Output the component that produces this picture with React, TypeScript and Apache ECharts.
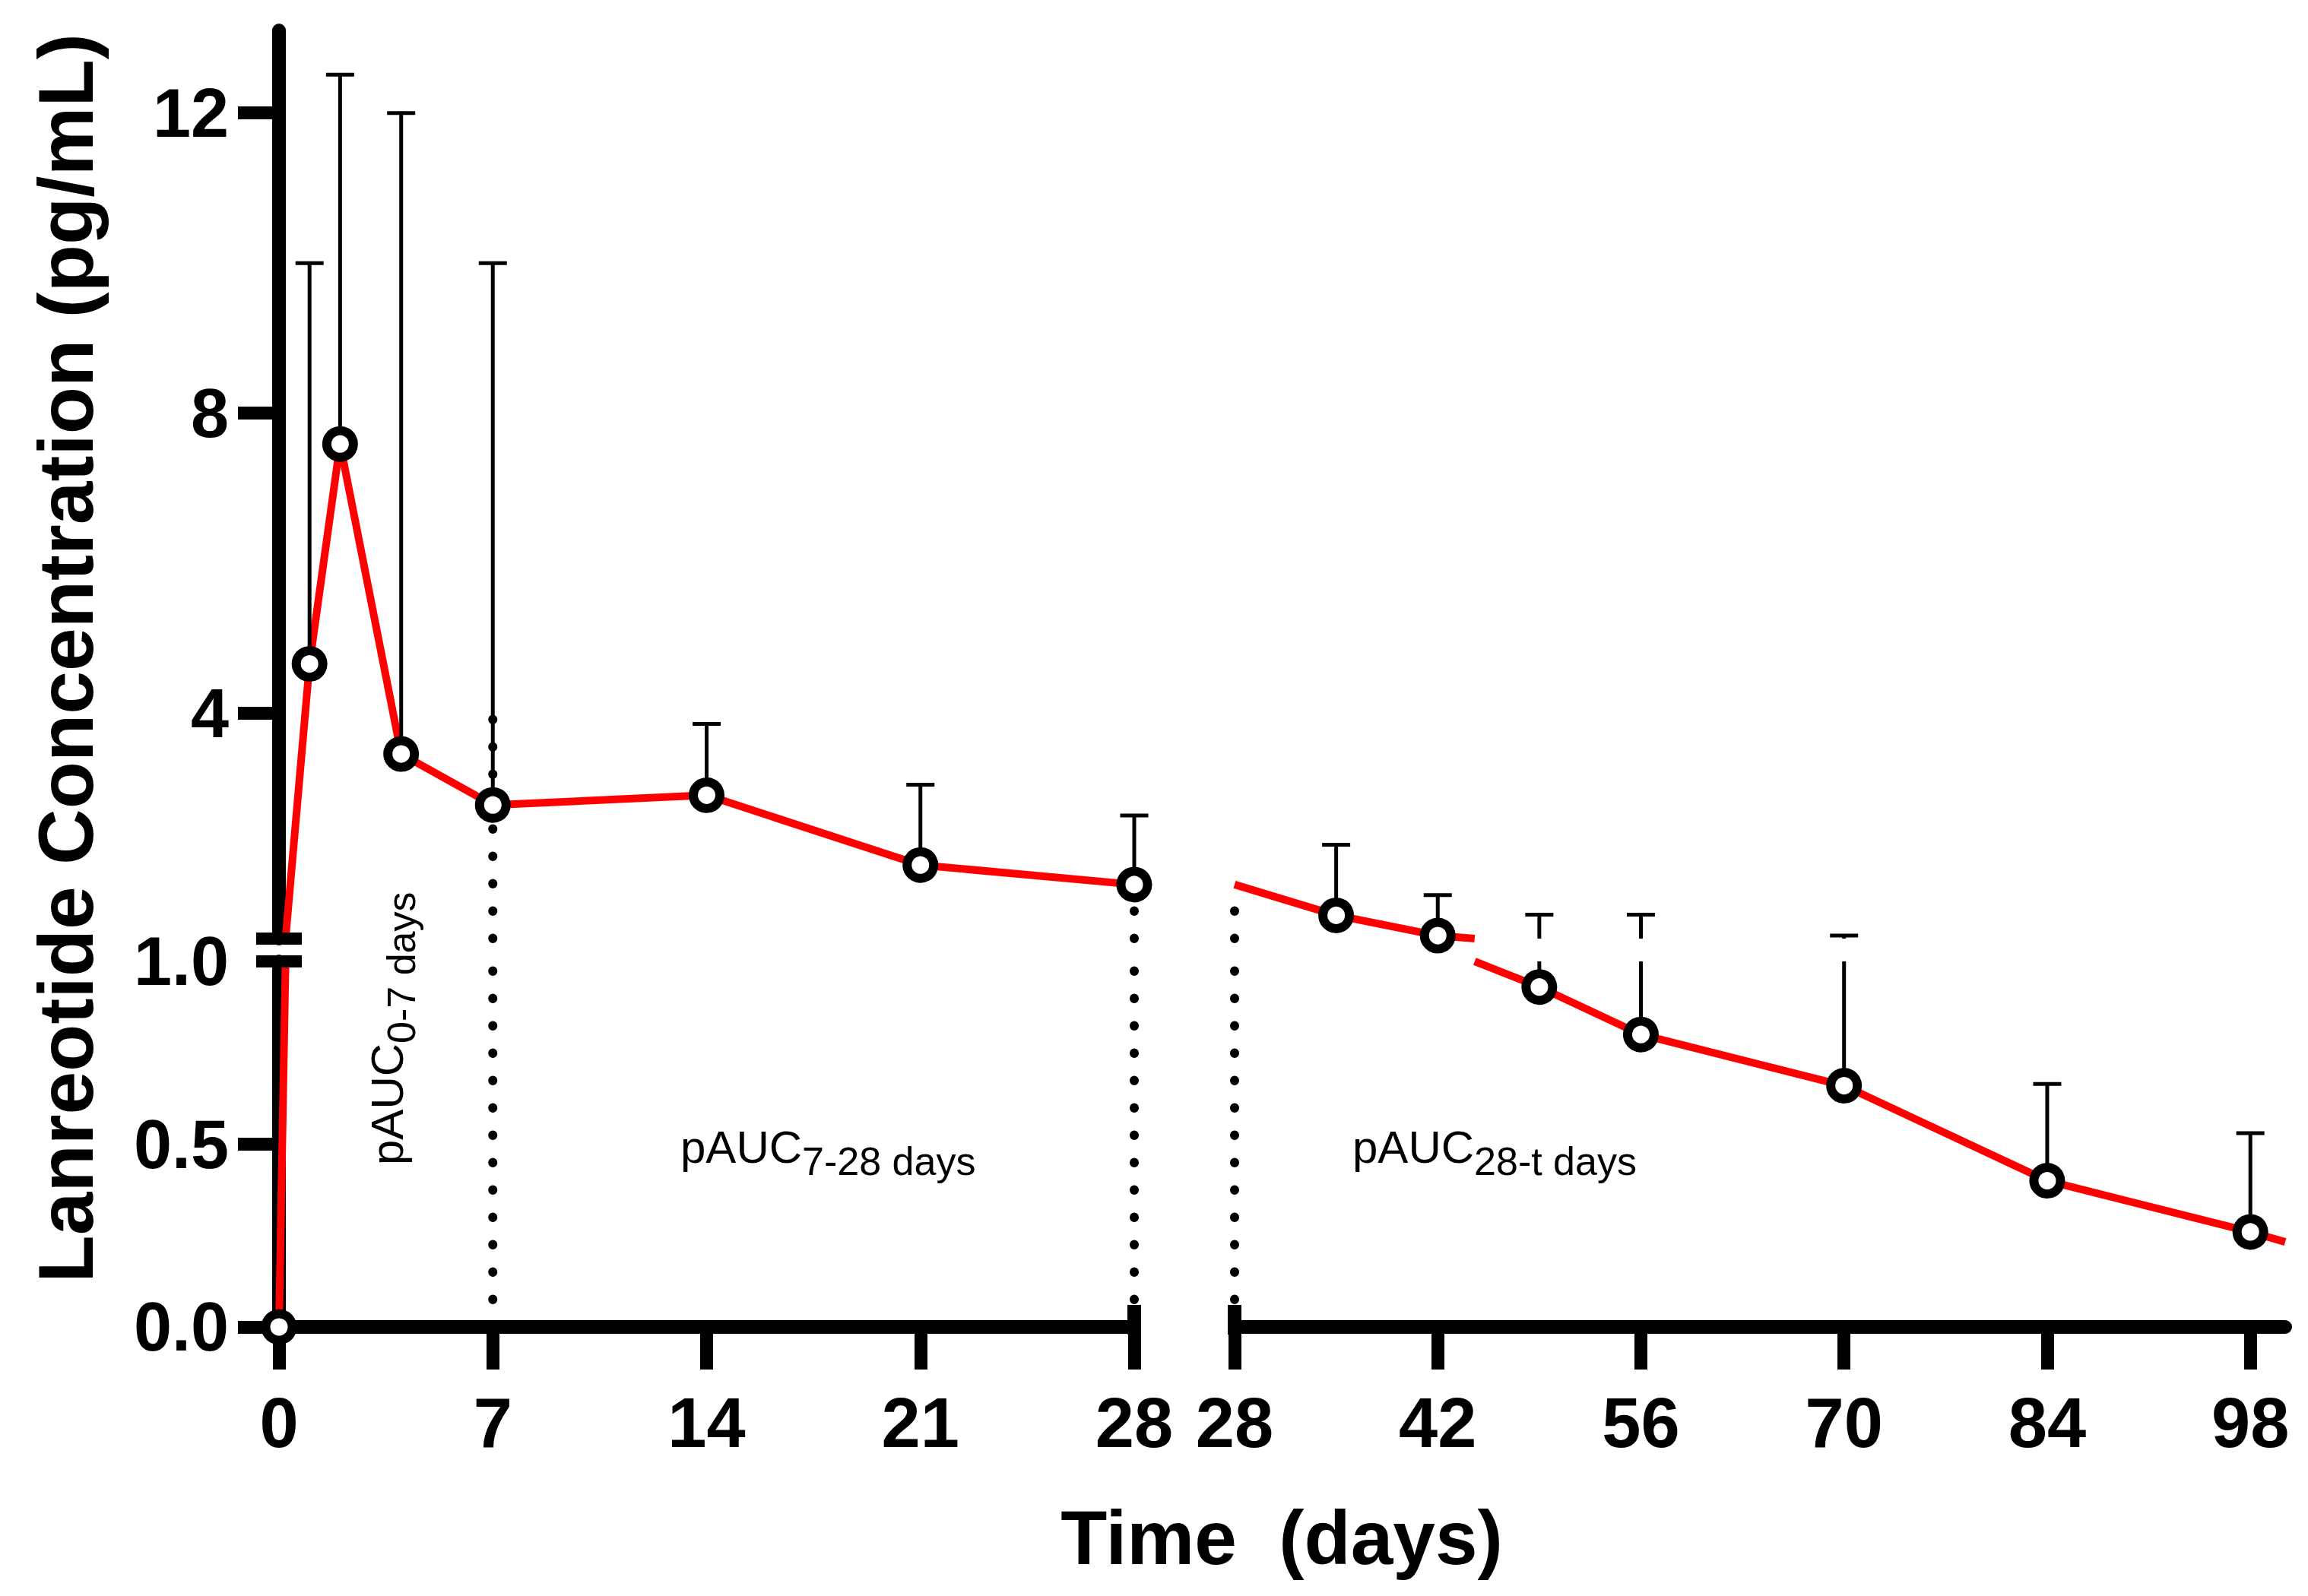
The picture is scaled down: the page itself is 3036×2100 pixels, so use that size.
import React, { useEffect, useRef } from "react";
import * as echarts from "echarts";

// ---------- data ----------
const days = [0, 1, 2, 4, 7, 14, 21, 28, 35, 42, 49, 56, 70, 84, 98, 112];
const meanConc = [0, 4.66, 7.59, 3.46, 2.78, 2.91, 1.98, 1.72, 1.31, 1.04, 0.93, 0.8, 0.66, 0.4, 0.26, 0.1];
const sdConc = [0, 5.34, 4.92, 8.54, 7.22, 0.95, 1.07, 0.92, 0.94, 0.54, 0.39, 0.52, 0.38, 0.265, 0.27, 0];

const xTicksLeft = [0, 7, 14, 21, 28];
const xTicksRight = [28, 42, 56, 70, 84, 98];
const yTicksLow = [0, 0.5];
const yLabelsLow = [0, 0.5, 1.0];
const yTicksHigh = [4, 8, 12];

const boundaryDays = [7, 28];
const boundaryTop = [4.0, 1.72];

const pAucMain = ["pAUC", "pAUC", "pAUC"];
const pAucSub = ["0-7 days", "7-28 days", "28-t days"];

const xRangeLeft = [0, 28];
const xRangeRight = [28, 100.4];
const yRangeLow = [0, 1];
const yRangeHigh = [1, 13.1];

// ---------- layout ----------
const FONT = "'Liberation Sans', Arial, Helvetica, sans-serif";
const LEFT_X = 367;
const LEFT_W = 1125;
const RIGHT_X = 1624;
const RIGHT_W = 1382;
const UP_TOP = 40;
const UP_H = 1195;
const LOW_TOP = 1265;
const LOW_H = 481;
const AXIS_W = 18;

function emptyGroup() {
  return { type: "group", children: [] };
}

// Liang–Barsky clipping of a segment to a data-space rectangle
function clipSeg(x0: number, y0: number, x1: number, y1: number, xr: number[], yr: number[]) {
  let t0 = 0;
  let t1 = 1;
  const dx = x1 - x0;
  const dy = y1 - y0;
  const p = [-dx, dx, -dy, dy];
  const q = [x0 - xr[0], xr[1] - x0, y0 - yr[0], yr[1] - y0];
  for (let i = 0; i < 4; i++) {
    if (p[i] === 0) {
      if (q[i] < 0) return null;
    } else {
      const r = q[i] / p[i];
      if (p[i] < 0) {
        if (r > t1) return null;
        if (r > t0) t0 = r;
      } else {
        if (r < t0) return null;
        if (r < t1) t1 = r;
      }
    }
  }
  if (t1 - t0 <= 1e-9) return null;
  return [x0 + t0 * dx, y0 + t0 * dy, x0 + t1 * dx, y0 + t1 * dy];
}

function makeSeg(xr: number[], yr: number[]) {
  return (params: any, api: any) => {
    const c = clipSeg(api.value(0), api.value(1), api.value(2), api.value(3), xr, yr);
    if (!c) return emptyGroup();
    const a = api.coord([c[0], c[1]]);
    const b = api.coord([c[2], c[3]]);
    return {
      type: "line",
      shape: { x1: a[0], y1: a[1], x2: b[0], y2: b[1] },
      style: { stroke: "#ff0000", lineWidth: 10, lineCap: "butt" },
    };
  };
}

function makeErr(xr: number[], yr: number[], includeMin: boolean) {
  return (params: any, api: any) => {
    const x = api.value(0);
    const lo = api.value(1);
    const hi = api.value(2);
    if (x > xr[1] || x < xr[0] || (!includeMin && x === xr[0])) return emptyGroup();
    const children: any[] = [];
    const a = Math.max(lo, yr[0]);
    const b = Math.min(hi, yr[1]);
    if (b > a) {
      const p0 = api.coord([x, a]);
      const p1 = api.coord([x, b]);
      children.push({
        type: "line",
        shape: { x1: p0[0], y1: p0[1], x2: p1[0], y2: p1[1] },
        style: { stroke: "#000", lineWidth: 5 },
      });
    }
    if (hi >= yr[0] && hi <= yr[1]) {
      const pc = api.coord([x, hi]);
      children.push({
        type: "line",
        shape: { x1: pc[0] - 18.5, y1: pc[1], x2: pc[0] + 18.5, y2: pc[1] },
        style: { stroke: "#000", lineWidth: 5 },
      });
    }
    return { type: "group", children };
  };
}

function makeDot(xr: number[], yr: number[]) {
  return (params: any, api: any) => {
    const x = api.value(0);
    const lo = api.value(1);
    const hi = api.value(2);
    if (x < xr[0] || x > xr[1]) return emptyGroup();
    const a = Math.max(lo, yr[0]);
    const b = Math.min(hi, yr[1]);
    if (b <= a) return emptyGroup();
    const p0 = api.coord([x, a]);
    const p1 = api.coord([x, b]);
    return {
      type: "line",
      shape: { x1: p0[0], y1: p0[1], x2: p1[0], y2: p1[1] },
      style: { stroke: "#000", lineWidth: 12, lineDash: [0.5, 35.5], lineCap: "round" },
    };
  };
}

function buildOption() {
  const points = days.map((d, i) => [d, meanConc[i]]);
  const segData = days.slice(1).map((d, i) => [days[i], meanConc[i], d, meanConc[i + 1]]);
  const errData = days
    .map((d, i) => [d, meanConc[i], meanConc[i] + sdConc[i]])
    .filter((r) => r[2] > r[1]);
  const dotData = boundaryDays.map((d, i) => [d, 0, boundaryTop[i]]);

  const panels = [
    { left: LEFT_X, width: LEFT_W, top: LOW_TOP, height: LOW_H, xr: xRangeLeft, yr: yRangeLow, showX: true, showY: true, low: true, isLeft: true },
    { left: LEFT_X, width: LEFT_W, top: UP_TOP, height: UP_H, xr: xRangeLeft, yr: yRangeHigh, showX: false, showY: true, low: false, isLeft: true },
    { left: RIGHT_X, width: RIGHT_W, top: LOW_TOP, height: LOW_H, xr: xRangeRight, yr: yRangeLow, showX: true, showY: false, low: true, isLeft: false },
    { left: RIGHT_X, width: RIGHT_W, top: UP_TOP, height: UP_H, xr: xRangeRight, yr: yRangeHigh, showX: false, showY: false, low: false, isLeft: false },
  ];

  const grid = panels.map((p) => ({
    left: p.left,
    top: p.top,
    width: p.width,
    height: p.height,
    containLabel: false,
    outerBoundsMode: "none",
  }));

  const xAxis = panels.map((p, i) => ({
    gridIndex: i,
    type: "value",
    min: p.xr[0],
    max: p.xr[1],
    show: p.showX,
    axisLine: { show: true, onZero: false, lineStyle: { color: "#000", width: AXIS_W } },
    axisTick: {
      show: true,
      length: 56,
      lineStyle: { color: "#000", width: 17 },
      customValues: p.isLeft ? xTicksLeft : xTicksRight,
    },
    axisLabel: {
      show: true,
      customValues: p.isLeft ? xTicksLeft : xTicksRight,
      margin: 80,
      fontSize: 92,
      fontWeight: "bold",
      fontFamily: FONT,
      color: "#000",
      formatter: (v: number) => String(v),
    },
    splitLine: { show: false },
  }));

  const yAxis = panels.map((p, i) => ({
    gridIndex: i,
    type: "value",
    position: "left",
    min: p.yr[0],
    max: p.yr[1],
    show: p.showY,
    axisLine: { show: true, onZero: false, lineStyle: { color: "#000", width: AXIS_W } },
    axisTick: {
      show: true,
      length: 54,
      lineStyle: { color: "#000", width: 17 },
      customValues: p.low ? yTicksLow : yTicksHigh,
    },
    axisLabel: {
      show: true,
      customValues: p.low ? yLabelsLow : yTicksHigh,
      margin: 66,
      fontSize: 90,
      fontWeight: "bold",
      fontFamily: FONT,
      color: "#000",
      formatter: (v: number) => (p.low ? v.toFixed(1) : String(v)),
    },
    splitLine: { show: false },
  }));

  const series: any[] = [];
  panels.forEach((p, i) => {
    series.push({
      type: "custom",
      xAxisIndex: i,
      yAxisIndex: i,
      data: segData,
      encode: { x: [0, 2], y: [1, 3] },
      renderItem: makeSeg(p.xr, p.yr),
      z: 2,
      silent: true,
    });
    series.push({
      type: "custom",
      xAxisIndex: i,
      yAxisIndex: i,
      data: dotData,
      encode: { x: 0, y: [1, 2] },
      renderItem: makeDot(p.xr, p.yr),
      z: 3,
      silent: true,
    });
    series.push({
      type: "custom",
      xAxisIndex: i,
      yAxisIndex: i,
      data: errData,
      encode: { x: 0, y: [1, 2] },
      renderItem: makeErr(p.xr, p.yr, p.isLeft),
      z: 3,
      silent: true,
    });
    series.push({
      type: "scatter",
      xAxisIndex: i,
      yAxisIndex: i,
      data: points.filter((pt) =>
        p.isLeft ? pt[0] >= p.xr[0] && pt[0] <= p.xr[1] : pt[0] > p.xr[0] && pt[0] <= p.xr[1]
      ),
      symbol: "circle",
      symbolSize: 35,
      clip: true,
      itemStyle: { color: "#ffffff", borderColor: "#000000", borderWidth: 12, opacity: 1 },
      z: 4,
      silent: true,
    });
  });

  const upBottom = UP_TOP + UP_H;
  const lowBottom = LOW_TOP + LOW_H;
  const leftEnd = LEFT_X + LEFT_W;

  const mainStyle = { fontSize: 60, fontFamily: FONT, fill: "#000", verticalAlign: "top" };
  const subStyle = { fontSize: 52, fontFamily: FONT, fill: "#000", verticalAlign: "top", padding: [23, 0, 0, 0] };
  const richLabel = (k: number) => ({
    text: `{m|${pAucMain[k]}}{s|${pAucSub[k]}}`,
    rich: { m: mainStyle, s: subStyle },
    align: "left",
    verticalAlign: "top",
    fill: "#000",
  });

  const graphic: any[] = [
    // y-axis break marks
    { type: "line", shape: { x1: LEFT_X - 30, y1: upBottom, x2: LEFT_X + 30, y2: upBottom }, style: { stroke: "#000", lineWidth: 16 }, z: 10 },
    { type: "line", shape: { x1: LEFT_X - 30, y1: LOW_TOP, x2: LEFT_X + 30, y2: LOW_TOP }, style: { stroke: "#000", lineWidth: 16 }, z: 10 },
    // x-axis break marks
    { type: "line", shape: { x1: leftEnd, y1: lowBottom - 29, x2: leftEnd, y2: lowBottom + 10 }, style: { stroke: "#000", lineWidth: 18 }, z: 10 },
    { type: "line", shape: { x1: RIGHT_X, y1: lowBottom - 29, x2: RIGHT_X, y2: lowBottom + 10 }, style: { stroke: "#000", lineWidth: 18 }, z: 10 },
    // axis titles
    {
      type: "text",
      x: 87,
      y: 866,
      rotation: Math.PI / 2,
      style: {
        text: "Lanreotide Concentration (pg/mL)",
        fontSize: 102,
        fontWeight: "bold",
        fontFamily: FONT,
        fill: "#000",
        align: "center",
        verticalAlign: "middle",
      },
      z: 10,
    },
    {
      type: "text",
      x: 1686,
      y: 2023,
      style: {
        text: "Time  (days)",
        fontSize: 100,
        fontWeight: "bold",
        fontFamily: FONT,
        fill: "#000",
        align: "center",
        verticalAlign: "middle",
      },
      z: 10,
    },
    // pAUC annotations
    { type: "text", x: 479, y: 1533, rotation: Math.PI / 2, style: richLabel(0), z: 10 },
    { type: "text", x: 895, y: 1479, style: richLabel(1), z: 10 },
    { type: "text", x: 1779, y: 1479, style: richLabel(2), z: 10 },
  ];

  return {
    animation: false,
    backgroundColor: "#ffffff",
    grid,
    xAxis,
    yAxis,
    series,
    graphic,
  };
}

export default function App() {
  const ref = useRef<HTMLDivElement>(null);
  useEffect(() => {
    if (!ref.current) return;
    const chart = echarts.init(ref.current, undefined, { renderer: "svg" });
    chart.setOption(buildOption() as any);
    return () => chart.dispose();
  }, []);
  return (
    <div
      ref={ref}
      style={{ position: "absolute", left: 0, top: 0, width: 3036, height: 2100, background: "#fff" }}
    />
  );
}
